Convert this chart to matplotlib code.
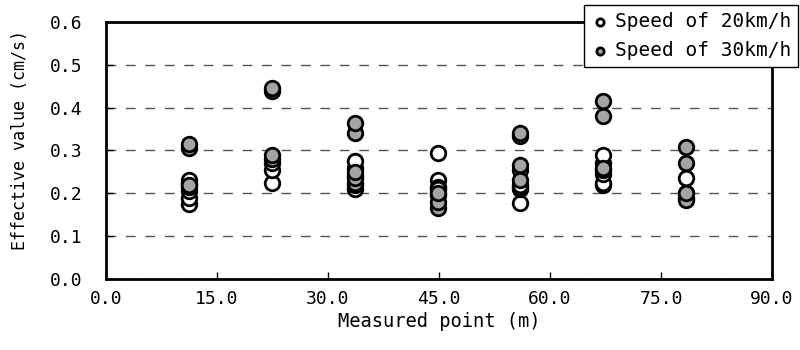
import numpy as np
import matplotlib.pyplot as plt
from matplotlib.ticker import FormatStrFormatter, MultipleLocator

# measured points (m) and effective values (cm/s)
points = [11.2, 22.4, 33.6, 44.8, 56.0, 67.2, 78.4]
speed20 = [
    [0.175, 0.19, 0.205, 0.225, 0.23],
    [0.225, 0.255, 0.27],
    [0.21, 0.22, 0.24, 0.26, 0.275],
    [0.295, 0.23, 0.215, 0.21, 0.195],
    [0.177, 0.21, 0.215, 0.22, 0.255],
    [0.22, 0.225, 0.245, 0.27, 0.29],
    [0.19, 0.2, 0.235],
]
speed30 = [
    [0.215, 0.22, 0.305, 0.315],
    [0.28, 0.29, 0.44, 0.445],
    [0.225, 0.235, 0.25, 0.34, 0.365],
    [0.165, 0.18, 0.2],
    [0.23, 0.265, 0.335, 0.34],
    [0.255, 0.26, 0.38, 0.415],
    [0.185, 0.2, 0.27, 0.308],
]
labels = ["Speed of 20km/h", "Speed of 30km/h"]

plt.rcParams["font.family"] = ["DejaVu Sans Mono"]

fig = plt.figure(figsize=(8, 3.5), dpi=100)
ax = fig.add_axes([0.1325, 0.203, 0.8325, 0.734])

x20 = np.repeat(points, [len(v) for v in speed20])
y20 = np.concatenate(speed20)
x30 = np.repeat(points, [len(v) for v in speed30])
y30 = np.concatenate(speed30)

ax.scatter(x20, y20, s=110, facecolor="white", edgecolor="black", linewidth=2, label=labels[0], zorder=3)
ax.scatter(x30, y30, s=110, facecolor="#a4a4a4", edgecolor="black", linewidth=2, label=labels[1], zorder=3)

ax.set_xlim(0, 90)
ax.set_ylim(0, 0.6)
ax.xaxis.set_major_locator(MultipleLocator(15))
ax.yaxis.set_major_locator(MultipleLocator(0.1))
ax.xaxis.set_major_formatter(FormatStrFormatter("%.1f"))
ax.yaxis.set_major_formatter(FormatStrFormatter("%.1f"))
ax.tick_params(direction="in", length=5, width=1, labelsize=13)
ax.tick_params(axis="x", pad=8)
ax.tick_params(axis="y", pad=17)
ax.grid(axis="y", color="#555555", linestyle=(0, (7, 7)), linewidth=1)
for s in ax.spines.values():
    s.set_linewidth(2)

ax.set_xlabel("Measured point (m)", fontsize=13.5, labelpad=3)
ax.set_ylabel("Effective value (cm/s)", fontsize=12)
ax.yaxis.set_label_coords(-0.116, 0.54)

leg = ax.legend(loc="upper right", bbox_to_anchor=(0.997, 0.986), bbox_transform=fig.transFigure,
                fontsize=14, markerscale=0.5, handletextpad=0.3, handlelength=0.9,
                borderpad=0.35, labelspacing=0.55, fancybox=False, framealpha=1, borderaxespad=0)
leg.get_frame().set_edgecolor("black")
leg.get_frame().set_linewidth(1)

fig.savefig("out.png", dpi=100)
